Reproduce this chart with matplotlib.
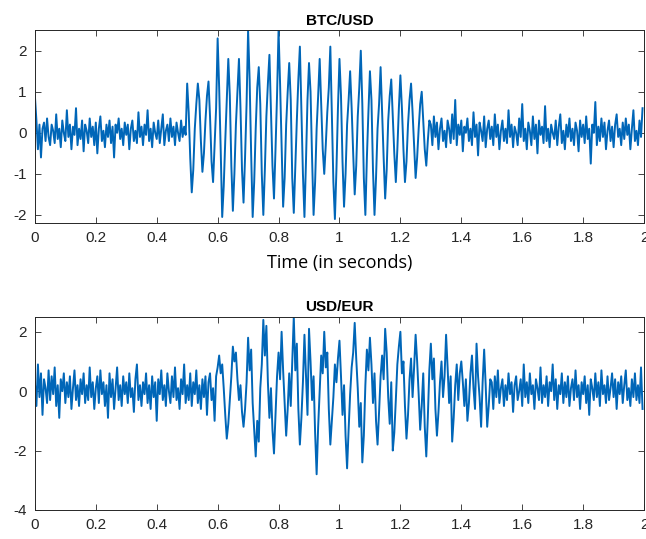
import numpy as np
import matplotlib.pyplot as plt

# sampling rate of both price-signal traces (samples per second)
fs = 200

# --- BTC/USD: quiet, burst, quiet ---
btc_quiet_start = [
    0.9, 0.3, -0.4, 0.2, -0.6, 0.1, 0.25, -0.2, 0.35, -0.1,
    -0.3, 0.2, 0.05, -0.25, 0.45, -0.15, 0.1, -0.35, 0.3, 0.0,
    -0.2, 0.55, -0.1, 0.2, -0.4, 0.15, -0.05, 0.6, -0.3, 0.1,
    -0.15, 0.3, -0.45, 0.2, 0.05, -0.25, 0.35, -0.1, 0.15, -0.3,
    0.25, -0.5, 0.1, 0.4, -0.2, 0.05, -0.35, 0.2, -0.1, 0.3,
    -0.25, 0.15, -0.6, 0.2, 0.0, 0.35, -0.15, 0.1, -0.3, 0.25,
    -0.05, 0.2, -0.4, 0.1, 0.3, -0.2, 0.05, -0.25, 0.5, -0.1,
    0.15, -0.3, 0.2, -0.05, 0.55, -0.2, 0.1, -0.35, 0.25, 0.0,
    -0.15, 0.3, -0.25, 0.1, 0.45, -0.3, 0.05, 0.2, -0.2, 0.35,
    -0.1, 0.15, -0.3, 0.25, 0.0, -0.2, 0.3, -0.1, 0.15, -0.05,
]
btc_burst = [
    1.2, 0.5, -0.6, -1.45, -0.9, 0.1, 0.7,
    1.2, 0.8, -0.2, -0.95, -0.5, 0.3, 0.9,
    1.25, 0.4, -0.7, -1.2, -0.3, 0.6,
    2.3, 1.1, -0.4, -2.05, -1.3, -0.2, 0.8,
    1.8, 0.9, -0.8, -1.9, -1.0, 0.2, 1.0,
    1.8, 0.6, -0.9, -1.7, -0.6, 0.7,
    2.5, 1.3, -0.5, -2.05, -1.2, 0.1, 1.1,
    1.6, 0.7, -1.0, -2.0, -0.9, 0.4, 1.2,
    1.9, 0.5, -0.8, -1.6, -0.4, 0.9,
    2.5, 1.2, -0.3, -1.8, -1.1, 0.2, 1.0,
    1.7, 0.8, -1.1, -1.95, -0.8, 0.3, 1.3,
    2.1, 0.6, -1.0, -2.05, -0.7, 0.8,
    1.7, 1.0, -0.6, -2.0, -1.2, 0.1, 0.9,
    1.8, 0.7, -0.4, -1.0, -0.3, 0.5, 1.1,
    2.1, 0.5, -1.2, -2.1, -0.9, 0.6,
    1.8, 0.9, -0.7, -1.8, -1.0, 0.2, 0.8,
    1.5, 0.6, -0.5, -1.5, -0.8, 0.4, 1.1,
    2.0, 0.7, -1.1, -2.0, -0.6, 0.5,
    1.5, 0.8, -0.9, -2.0, -1.1, 0.1, 0.7,
    1.6, 0.5, -0.6, -1.6, -0.9, 0.3, 0.9,
    1.3, 0.4, -0.5, -1.2, -0.4, 0.6,
    1.4, 0.6, -0.4, -1.2, -0.7, 0.2, 0.8,
    1.2, 0.5, -0.3, -1.1, -0.6, 0.1, 0.7,
    1.0, 0.3, -0.4, -0.8, -0.2, 0.3,
]
btc_quiet_end = [
    0.2, -0.3, 0.4, -0.1, 0.25, -0.4, 0.1, 0.35, -0.2, 0.05,
    -0.35, 0.3, 0.1, -0.25, 0.45, -0.15, 0.8, -0.3, 0.2, -0.05,
    0.3, -0.45, 0.15, 0.0, 0.35, -0.2, 0.1, -0.3, 0.5, -0.1,
    0.2, -0.55, 0.25, 0.05, -0.2, 0.4, -0.35, 0.1, 0.3, -0.15,
    0.15, -0.3, 0.45, -0.1, 0.2, -0.4, 0.05, 0.3, -0.2, 0.1,
    -0.25, 0.55, -0.1, 0.2, -0.35, 0.15, 0.0, -0.3, 0.35, -0.1,
    0.7, -0.2, 0.1, -0.4, 0.25, 0.05, -0.3, 0.4, -0.15, 0.2,
    -0.5, 0.3, -0.05, 0.15, -0.25, 0.65, -0.2, 0.1, -0.35, 0.2,
    0.0, -0.15, 0.3, -0.3, 0.15, 0.45, -0.25, 0.05, -0.4, 0.2,
    -0.1, 0.35, -0.2, 0.1, -0.3, 0.25, 0.05, -0.45, 0.3, -0.1,
    0.2, -0.25, 0.4, -0.15, 0.1, -0.75, 0.2, 0.0, 0.75, -0.3,
    0.15, -0.2, 0.35, -0.1, 0.25, -0.4, 0.05, 0.3, -0.2, 0.15,
    -0.35, 0.2, 0.45, -0.1, 0.1, -0.3, 0.25, -0.15, 0.35, -0.05,
    0.2, -0.4, 0.1, 0.55, -0.2, 0.05, -0.3, 0.3, -0.1, 0.6,
]

# --- USD/EUR: quiet, burst, quiet ---
eur_quiet_start = [
    0.3, -0.5, 0.9, -0.2, 0.6, -0.8, 0.4, 0.1, -0.4, 0.7,
    -0.3, 0.5, -0.1, 0.8, -0.5, 0.2, -0.9, 0.4, 0.0, 0.6,
    -0.4, 0.3, -0.2, 0.5, -0.6, 0.1, 0.7, -0.3, 0.2, -0.5,
    0.4, -0.1, 0.6, -0.4, 0.2, -0.3, 0.8, -0.2, 0.3, -0.6,
    0.1, 0.5, -0.4, 0.7, -0.1, 0.3, -0.5, 0.2, -0.9, 0.6,
    -0.2, 0.4, -0.6, 0.1, 0.8, -0.3, 0.2, -0.5, 0.5, -0.1,
    0.3, -0.4, 0.6, -0.2, 0.1, -0.7, 0.4, 0.9, -0.3, 0.2,
    -0.5, 0.3, -0.1, 0.6, -0.4, 0.2, -0.6, 0.5, -0.2, 0.3,
    -1.0, 0.4, -0.1, 0.7, -0.3, 0.2, -0.5, 0.6, 0.0, -0.4,
    0.5, -0.2, 0.8, -0.3, 0.1, -0.6, 0.4, -0.1, 0.9, -0.4,
    0.2, -0.3, 0.6, -0.5, 0.3, -0.1, 0.7, -0.4, 0.2, -0.6,
    0.4, -0.2, 0.5, -0.8, 0.3, 0.6, -0.3, 0.1, -1.0, 0.5,
]
eur_burst = [
    0.8, 1.2, 0.6, 0.9, 0.1, -0.8, -1.6, -1.1, -0.3, 0.5,
    1.5, 1.0, 1.3, 0.4, -0.3, 0.2, -0.7, -1.2, -0.6, 0.3,
    1.8, 0.7, 1.4, -0.4, -1.3, -2.2, -1.0, -1.7, 0.1, 0.9,
    2.4, 1.2, 2.2, 0.3, -0.9, 0.1, -1.3, -2.1, -0.8, 0.5,
    1.3, 0.4, 2.0, 0.7, -0.4, -1.5, -0.6, 0.6, -0.5, 1.0,
    2.5, 0.7, 1.6, -0.6, -1.8, -0.9, 0.3, 1.9, 0.5, -0.8,
    2.1, 1.0, -0.3, 0.5, -1.4, -2.8, -1.2, 0.0, 1.2, 0.6,
    2.0, 0.8, 1.3, -0.6, -1.8, -1.0, -0.2, 0.9, 0.3, 1.1,
    1.7, 0.5, -0.8, 0.2, -1.5, -2.6, -1.3, -0.1, 0.8, 1.3,
    2.3, 1.1, 0.1, -1.2, -0.4, -2.4, -1.5, 0.2, 1.4, 0.7,
    1.8, 0.9, -0.4, 0.6, -1.0, -1.8, -0.7, 0.5, 1.2, 0.4,
    2.1, 1.3, -0.2, -1.1, 0.3, -2.0, -1.4, -0.3, 0.9, 1.5,
    2.0, 0.6, 1.0, -0.5, -1.6, -0.8, 0.4, 1.1, -0.2, 0.8,
    1.9, 1.0, -0.1, -1.3, -0.5, 0.6, -1.2, -2.2, -0.9, 0.7,
    1.6, 0.4, 1.1, -0.6, -1.5, -0.7, 0.3, 1.0, -0.2, 0.5,
    1.9, 0.8, -0.4, 0.5, -1.7, -0.9, 0.2, 0.9, -0.3, 0.6,
    1.0, 0.3, -0.5, 0.4, -1.0, -0.4, 0.6, 1.2, 0.1, -0.6,
    1.6, 0.5, -0.2, -1.2, 0.3, 1.4, 0.2, -1.2, -0.5, 0.4,
]
eur_quiet_end = [
    0.3, -0.6, 0.5, -0.2, 0.7, -0.4, 0.1, 0.4, -0.5, 0.2,
    -0.3, 0.6, -0.1, 0.3, -0.7, 0.2, 0.5, -0.3, 0.0, 0.4,
    -0.5, 0.9, -0.2, 0.3, -0.4, 0.6, -0.1, 0.2, -0.6, 0.4,
    0.1, -0.3, 0.8, -0.4, 0.2, -0.2, 0.5, -0.5, 0.3, 0.0,
    0.9, -0.3, 0.4, -0.6, 0.2, -0.1, 0.6, -0.4, 0.3, -0.2,
    0.5, -0.5, 0.1, 0.4, -0.3, 0.7, -0.2, 0.2, -0.6, 0.3,
    -0.1, 0.5, -0.4, 0.2, -0.8, 0.4, 0.1, -0.3, 0.6, -0.2,
    0.3, -0.5, 0.7, -0.1, 0.2, -0.4, 0.5, -0.3, 0.1, 0.6,
    -0.2, 0.4, -0.6, 0.3, -0.1, 0.5, -0.4, 0.2, 0.7, -0.3,
    0.1, -0.5, 0.4, -0.2, 0.6, -0.3, 0.2, -0.4, 0.8, -0.6,
]

x_ticks = [0, 0.2, 0.4, 0.6, 0.8, 1, 1.2, 1.4, 1.6, 1.8, 2]
x_tick_labels = ["0", "0.2", "0.4", "0.6", "0.8", "1", "1.2", "1.4", "1.6", "1.8", "2"]

btc = np.array(btc_quiet_start + btc_burst + btc_quiet_end)
eur = np.array(eur_quiet_start + eur_burst + eur_quiet_end)
t_btc = np.arange(len(btc)) / fs
t_eur = np.arange(len(eur)) / fs

plt.rcParams["font.family"] = ["Liberation Sans", "DejaVu Sans"]
line_color = "#0066B8"
axis_color = "#262626"

fig = plt.figure(figsize=(6.46, 5.39), dpi=100)
ax1 = fig.add_axes([0.054, 0.586, 0.943, 0.358])
ax2 = fig.add_axes([0.054, 0.054, 0.943, 0.358])


def style_axes(ax, yticks, ylim):
    ax.set_xlim(0, 2)
    ax.set_ylim(*ylim)
    ax.set_xticks(x_ticks)
    ax.set_xticklabels(x_tick_labels)
    ax.set_yticks(yticks)
    ax.set_yticklabels([str(v) for v in yticks])
    ax.tick_params(direction="in", top=True, right=True, length=4, width=0.6,
                   colors=axis_color, labelsize=11, pad=6)
    for spine in ax.spines.values():
        spine.set_color(axis_color)
        spine.set_linewidth(0.7)


ax1.plot(t_btc, btc, color=line_color, lw=1.4)
style_axes(ax1, [-2, -1, 0, 1, 2], (-2.2, 2.5))
ax1.set_title("BTC/USD", fontsize=11, fontweight="bold", pad=4)
ax1.set_xlabel("Time (in seconds)", fontsize=13, family=["Open Sans", "DejaVu Sans"],
               labelpad=6, color="black")

ax2.plot(t_eur, eur, color=line_color, lw=1.4)
style_axes(ax2, [-4, -2, 0, 2], (-4, 2.5))
ax2.set_title("USD/EUR", fontsize=11, fontweight="bold", pad=4)

fig.savefig("out.png", dpi=100)
